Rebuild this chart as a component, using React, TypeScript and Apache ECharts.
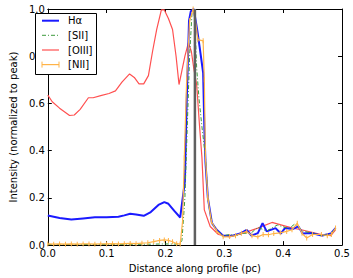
import React, { useEffect, useRef } from "react";
import * as echarts from "echarts";

const haX = [0, 0.02, 0.04, 0.06, 0.08, 0.10, 0.12, 0.13, 0.14, 0.15, 0.163, 0.175, 0.188, 0.198, 0.205, 0.215, 0.225, 0.233, 0.236, 0.240, 0.243, 0.248, 0.254, 0.258, 0.264, 0.266, 0.268, 0.272, 0.279, 0.287, 0.298, 0.314, 0.327, 0.338, 0.346, 0.357, 0.365, 0.372, 0.387, 0.396, 0.403, 0.416, 0.426, 0.433, 0.448, 0.465, 0.481, 0.489];
const haY = [0.125, 0.115, 0.108, 0.113, 0.118, 0.118, 0.12, 0.126, 0.133, 0.13, 0.124, 0.14, 0.17, 0.182, 0.175, 0.145, 0.117, 0.27, 0.6, 0.95, 0.99, 1.0, 0.91, 0.84, 0.73, 0.5, 0.35, 0.2, 0.093, 0.065, 0.04, 0.04, 0.049, 0.065, 0.04, 0.051, 0.093, 0.058, 0.072, 0.049, 0.072, 0.068, 0.079, 0.049, 0.051, 0.04, 0.049, 0.072];

const siiX = [0, 0.05, 0.1, 0.15, 0.2, 0.225, 0.228, 0.233, 0.237, 0.241, 0.245, 0.248, 0.25, 0.253, 0.257, 0.262, 0.268, 0.272, 0.278, 0.287, 0.298, 0.31, 0.32, 0.33, 0.345, 0.357, 0.372, 0.39, 0.41, 0.42, 0.433, 0.45, 0.465, 0.48, 0.489];
const siiY = [0.002, 0.002, 0.003, 0.003, 0.005, 0.004, 0.02, 0.2, 0.5, 0.8, 0.98, 1.0, 0.95, 0.75, 0.62, 0.5, 0.37, 0.2, 0.1, 0.06, 0.04, 0.045, 0.04, 0.05, 0.05, 0.075, 0.06, 0.085, 0.07, 0.09, 0.06, 0.05, 0.04, 0.045, 0.07];

const oiiiX = [0, 0.0075, 0.02, 0.037, 0.045, 0.055, 0.069, 0.077, 0.09, 0.104, 0.115, 0.126, 0.139, 0.147, 0.155, 0.163, 0.171, 0.178, 0.185, 0.193, 0.198, 0.205, 0.212, 0.218, 0.223, 0.228, 0.233, 0.239, 0.244, 0.248, 0.253, 0.258, 0.262, 0.266, 0.276, 0.29, 0.309, 0.33, 0.357, 0.381, 0.416, 0.431, 0.465, 0.481, 0.489];
const oiiiY = [0.635, 0.607, 0.58, 0.549, 0.551, 0.575, 0.624, 0.624, 0.633, 0.642, 0.653, 0.69, 0.725, 0.71, 0.683, 0.683, 0.718, 0.82, 0.913, 0.996, 0.996, 0.96, 0.913, 0.8, 0.68, 0.74, 0.8, 0.857, 0.82, 0.75, 0.68, 0.5, 0.37, 0.149, 0.079, 0.045, 0.035, 0.049, 0.072, 0.096, 0.072, 0.065, 0.045, 0.04, 0.065];

const niiX = [0, 0.01, 0.02, 0.03, 0.04, 0.05, 0.06, 0.07, 0.08, 0.09, 0.10, 0.11, 0.12, 0.13, 0.14, 0.15, 0.16, 0.17, 0.18, 0.19, 0.198, 0.205, 0.212, 0.219, 0.225, 0.229, 0.232, 0.236, 0.241, 0.247, 0.251, 0.255, 0.264, 0.266, 0.268, 0.272, 0.278, 0.287, 0.298, 0.309, 0.319, 0.329, 0.338, 0.347, 0.357, 0.366, 0.375, 0.384, 0.395, 0.406, 0.415, 0.424, 0.432, 0.44, 0.45, 0.465, 0.475, 0.482, 0.489];
const niiY = [0.005, 0.004, 0.005, 0.004, 0.005, 0.004, 0.005, 0.005, 0.004, 0.005, 0.005, 0.006, 0.005, 0.006, 0.007, 0.006, 0.008, 0.01, 0.015, 0.02, 0.022, 0.02, 0.014, 0.006, 0.004, 0.1, 0.37, 0.7, 0.95, 1.0, 0.95, 0.87, 0.865, 0.7, 0.37, 0.2, 0.1, 0.06, 0.035, 0.036, 0.04, 0.05, 0.058, 0.04, 0.035, 0.045, 0.044, 0.049, 0.052, 0.058, 0.065, 0.093, 0.05, 0.03, 0.045, 0.045, 0.04, 0.045, 0.072];

const seriesNames = ["H\u03b1", "[SII]", "[OIII]", "[NII]"];
const markerX = 0.25;
const xTicks = [0, 0.1, 0.2, 0.3, 0.4, 0.5];
const yTicks = [0, 0.2, 0.4, 0.6, 0.8, 1.0];

const pair = (xs: number[], ys: number[]) => xs.map((x, i) => [x, ys[i]]);

const FONT = "DejaVu Sans";
const C_HA = "#1a1aff";
const C_SII = "#3c9a3c";
const C_OIII = "#ff5050";
const C_NII = "#ffb347";
const C_MARK = "#606060";
const DASHDOT = [4, 2, 1, 2];

export default function App() {
  const ref = useRef<HTMLDivElement>(null);
  useEffect(() => {
    if (!ref.current) return;
    const chart = echarts.init(ref.current, undefined, { renderer: "svg" });
    const axisCommon = {
      type: "value" as const,
      axisLine: { show: true, onZero: false, lineStyle: { color: "#000", width: 1 } },
      axisTick: { show: true, inside: true, length: 4, lineStyle: { color: "#000", width: 1 } },
      splitLine: { show: false },
    };

    const lx0 = 35.5, ly0 = 13.5, lw = 61, lh = 61;
    const rowY = [20.7, 35.3, 50, 64.6];
    const sx0 = 42, sx1 = 59, tx = 68;
    const styles = [
      { stroke: C_HA, lineWidth: 2 },
      { stroke: C_SII, lineWidth: 1, lineDash: DASHDOT },
      { stroke: C_OIII, lineWidth: 1.2 },
      { stroke: C_NII, lineWidth: 1.2 },
    ];
    const legendEls: any[] = [
      {
        type: "rect",
        shape: { x: lx0, y: ly0, width: lw, height: lh },
        style: { fill: "#fff", stroke: "#000", lineWidth: 1 },
        z: 100,
      },
    ];
    seriesNames.forEach((n, i) => {
      legendEls.push({
        type: "line",
        shape: { x1: sx0, y1: rowY[i], x2: sx1, y2: rowY[i] },
        style: styles[i],
        z: 101,
      });
      legendEls.push({
        type: "text",
        x: tx,
        y: rowY[i],
        style: { text: n, fill: "#000", font: `10px "${FONT}"`, verticalAlign: "middle" },
        z: 101,
      });
    });
    [sx0, sx1].forEach((x) => {
      legendEls.push({
        type: "line",
        shape: { x1: x, y1: rowY[3] - 3, x2: x, y2: rowY[3] + 3 },
        style: { stroke: C_NII, lineWidth: 1 },
        z: 101,
      });
    });

    chart.setOption({
      animation: false,
      backgroundColor: "#fff",
      textStyle: { fontFamily: FONT },
      grid: { left: 32, right: 11, top: 9, bottom: 29, containLabel: false },
      graphic: legendEls,
      xAxis: [
        {
          ...axisCommon,
          position: "bottom",
          min: 0,
          max: 0.5,
          interval: 0.1,
          axisLabel: {
            color: "#000",
            fontSize: 10,
            fontFamily: FONT,
            margin: 3,
            formatter: (v: number) => {
              const t = xTicks.find((k) => Math.abs(k - v) < 1e-9);
              return t === undefined ? "" : t.toFixed(1);
            },
          },
          name: "Distance along profile (pc)",
          nameLocation: "middle",
          nameGap: 14,
          nameTextStyle: { color: "#000", fontSize: 10, fontFamily: FONT },
        },
        {
          ...axisCommon,
          position: "top",
          min: 0,
          max: 0.5,
          interval: 0.1,
          axisLabel: { show: false },
        },
      ],
      yAxis: [
        {
          ...axisCommon,
          position: "left",
          min: 0,
          max: 1,
          interval: 0.2,
          axisLabel: {
            color: "#000",
            fontSize: 10,
            fontFamily: FONT,
            margin: 3,
            formatter: (v: number) => {
              const t = yTicks.find((k) => Math.abs(k - v) < 1e-9);
              return t === undefined ? "" : t.toFixed(1);
            },
          },
          name: "Intensity (normalized to peak)",
          nameLocation: "middle",
          nameGap: 19,
          nameTextStyle: { color: "#000", fontSize: 10, fontFamily: FONT },
        },
        {
          ...axisCommon,
          position: "right",
          min: 0,
          max: 1,
          interval: 0.2,
          axisLabel: { show: false },
        },
      ],
      series: [
        {
          name: "marker",
          type: "line",
          data: [[markerX, yTicks[0]], [markerX, yTicks[yTicks.length - 1]]],
          symbol: "none",
          lineStyle: { color: C_MARK, width: 2.5 },
          itemStyle: { color: C_MARK },
          z: 10,
          silent: true,
        },
        {
          name: seriesNames[0],
          type: "line",
          data: pair(haX, haY),
          symbol: "none",
          lineStyle: { color: C_HA, width: 2 },
          itemStyle: { color: C_HA },
          z: 2,
        },
        {
          name: seriesNames[1],
          type: "line",
          data: pair(siiX, siiY),
          symbol: "none",
          lineStyle: { color: C_SII, width: 1, type: DASHDOT },
          itemStyle: { color: C_SII },
          z: 3,
        },
        {
          name: seriesNames[2],
          type: "line",
          data: pair(oiiiX, oiiiY),
          symbol: "none",
          lineStyle: { color: C_OIII, width: 1.2 },
          itemStyle: { color: C_OIII },
          z: 1,
        },
        {
          name: seriesNames[3],
          type: "line",
          data: pair(niiX, niiY),
          symbol: "rect",
          symbolSize: [1, 5],
          showSymbol: true,
          lineStyle: { color: C_NII, width: 1.2 },
          itemStyle: { color: C_NII },
          z: 4,
        },
      ],
    });
    return () => chart.dispose();
  }, []);
  return <div ref={ref} style={{ width: 353, height: 278, position: "absolute", left: 0, top: 0 }} />;
}
